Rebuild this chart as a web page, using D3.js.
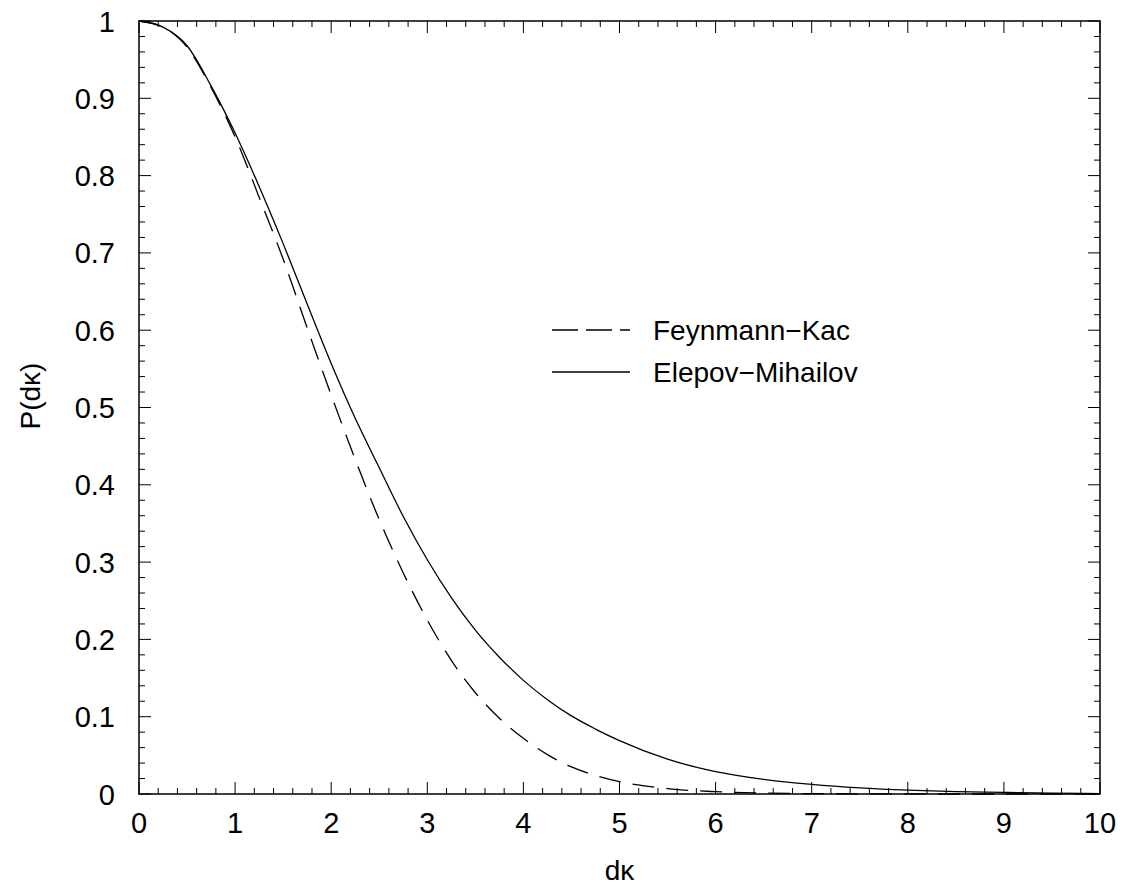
<!DOCTYPE html>
<html>
<head>
<meta charset="utf-8">
<script src="https://cdn.jsdelivr.net/npm/d3@7"></script>
<style>
  body { margin: 0; background: #fff; }
  text { font-family: "Liberation Sans", Arial, sans-serif; fill: #000; }
</style>
</head>
<body>
<svg id="chart"></svg>
<script>
// ================= DATA =================
var dk = [0, 0.25, 0.5, 0.75, 1.0, 1.25, 1.5, 1.75, 2.0, 2.25, 2.5, 2.75, 3.0, 3.25, 3.5, 3.75, 4.0, 4.25, 4.5, 4.75, 5.0, 5.5, 6.0, 6.5, 7.0, 7.5, 8.0, 8.5, 9.0, 9.5, 10.0];
var feynmanKac = [1, 0.992, 0.966, 0.914, 0.850, 0.772, 0.692, 0.603, 0.516, 0.433, 0.355, 0.286, 0.225, 0.173, 0.131, 0.098, 0.072, 0.051, 0.035, 0.024, 0.016, 0.007, 0.003, 0.0012, 0.0005, 0.0002, 0.0001, 0, 0, 0, 0];
var elepovMihailov = [1, 0.992, 0.968, 0.916, 0.855, 0.786, 0.712, 0.634, 0.557, 0.486, 0.422, 0.359, 0.303, 0.254, 0.212, 0.177, 0.147, 0.122, 0.101, 0.084, 0.069, 0.045, 0.029, 0.019, 0.0125, 0.008, 0.005, 0.003, 0.002, 0.001, 0.0005];
var xTicks = [0, 1, 2, 3, 4, 5, 6, 7, 8, 9, 10];
var yTicks = [0, 0.1, 0.2, 0.3, 0.4, 0.5, 0.6, 0.7, 0.8, 0.9, 1];
var seriesNames = ["Feynmann\u2212Kac", "Elepov\u2212Mihailov"];

// ================= CANVAS =================
var W = 1127, H = 886;
var pL = 139, pR = 1100, pT = 21, pB = 794;

var svg = d3.select("#chart").attr("width", W).attr("height", H);

var xs = d3.scaleLinear().domain([0, 10]).range([pL, pR]);
var ys = d3.scaleLinear().domain([0, 1]).range([pB, pT]);

// ================= CURVES =================
var line = function(vals) {
  return d3.line()
    .x(function(d, i) { return xs(dk[i]); })
    .y(function(d) { return ys(d); })
    .curve(d3.curveMonotoneX)(vals);
};

svg.append("path")
  .attr("d", line(feynmanKac))
  .attr("fill", "none")
  .attr("stroke", "#000")
  .attr("stroke-width", 1.3)
  .attr("stroke-dasharray", "22,12");

svg.append("path")
  .attr("d", line(elepovMihailov))
  .attr("fill", "none")
  .attr("stroke", "#000")
  .attr("stroke-width", 1.3);

// ================= AXES (ticks inward, all four sides) =================
var minorX = d3.range(0, 10.001, 0.2);
var minorY = d3.range(0, 1.0001, 0.02);

function ticksX(y0, dir) {
  svg.append("g").selectAll("line").data(minorX).enter().append("line")
    .attr("x1", function(d) { return xs(d); })
    .attr("x2", function(d) { return xs(d); })
    .attr("y1", y0)
    .attr("y2", function(d, i) { return y0 + dir * (i % 5 === 0 ? 12 : 6); })
    .attr("stroke", "#000").attr("stroke-width", 1);
}
function ticksY(x0, dir) {
  svg.append("g").selectAll("line").data(minorY).enter().append("line")
    .attr("y1", function(d) { return ys(d); })
    .attr("y2", function(d) { return ys(d); })
    .attr("x1", x0)
    .attr("x2", function(d, i) { return x0 + dir * (i % 5 === 0 ? 12 : 6); })
    .attr("stroke", "#000").attr("stroke-width", 1);
}
ticksX(pB, -1);
ticksX(pT, 1);
ticksY(pL, 1);
ticksY(pR, -1);

svg.append("rect")
  .attr("x", pL).attr("y", pT)
  .attr("width", pR - pL).attr("height", pB - pT)
  .attr("fill", "none").attr("stroke", "#000").attr("stroke-width", 1.5);

// tick labels
svg.append("g").selectAll("text").data(xTicks).enter().append("text")
  .attr("x", function(d) { return xs(d); })
  .attr("y", 833)
  .attr("text-anchor", "middle")
  .style("font-size", "29px")
  .text(function(d) { return d; });

svg.append("g").selectAll("text").data(yTicks).enter().append("text")
  .attr("x", 115)
  .attr("y", function(d) { return ys(d) + 10.5; })
  .attr("text-anchor", "end")
  .style("font-size", "29px")
  .text(function(d) { return d; });

// axis titles
svg.append("text")
  .attr("x", (pL + pR) / 2)
  .attr("y", 880)
  .attr("text-anchor", "middle")
  .style("font-size", "28px")
  .text("d\u03ba");

svg.append("text")
  .attr("transform", "translate(40,396) rotate(-90)")
  .attr("text-anchor", "middle")
  .style("font-size", "28px")
  .text("P(d\u03ba)");

// ================= LEGEND =================
var legY = [330, 372];
svg.append("line")
  .attr("x1", 552).attr("x2", 630).attr("y1", legY[0]).attr("y2", legY[0])
  .attr("stroke", "#000").attr("stroke-width", 1.3)
  .attr("stroke-dasharray", "26,8");
svg.append("line")
  .attr("x1", 552).attr("x2", 630).attr("y1", legY[1]).attr("y2", legY[1])
  .attr("stroke", "#000").attr("stroke-width", 1.3);
svg.append("g").selectAll("text").data(seriesNames).enter().append("text")
  .attr("x", 653)
  .attr("y", function(d, i) { return legY[i] + 10; })
  .style("font-size", "28px")
  .text(function(d) { return d; });
</script>
</body>
</html>
